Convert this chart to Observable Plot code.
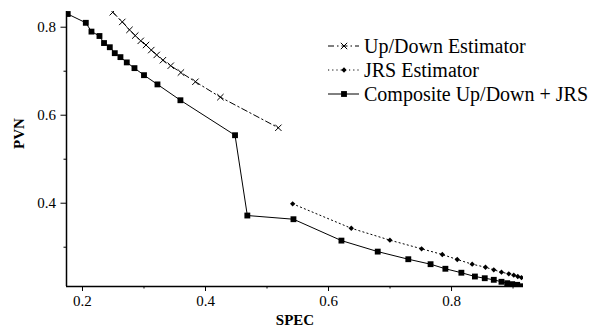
<!DOCTYPE html>
<html>
<head>
<meta charset="utf-8">
<script src="https://cdn.jsdelivr.net/npm/d3@7"></script>
<script src="https://cdn.jsdelivr.net/npm/@observablehq/plot@0.6"></script>
<style>
  html, body { margin: 0; padding: 0; background: #fff; }
  #wrap { position: relative; width: 590px; height: 328px; }
  #legend { position: absolute; left: 328px; top: 34px; font-family: "Liberation Serif", "Times New Roman", serif; font-size: 20px; color: #000; }
  #legend .row { display: flex; align-items: center; height: 24px; white-space: nowrap; }
  #legend svg { width: 32px; height: 12px; margin-right: 4px; overflow: visible; flex: none; }
</style>
</head>
<body>
<div id="wrap"><div id="legend"></div></div>
<script>
// ---- data ----
const seriesNames = ["Up/Down Estimator", "JRS Estimator", "Composite Up/Down + JRS"];

const upDownSpec = [0.2492, 0.2647, 0.2764, 0.2858, 0.2947, 0.3033, 0.3118, 0.3207, 0.3308, 0.3435, 0.360, 0.3836, 0.4242, 0.5184];
const upDownPvn  = [0.834, 0.812, 0.794, 0.781, 0.769, 0.7595, 0.748, 0.737, 0.725, 0.7125, 0.697, 0.676, 0.641, 0.5714];

const jrsSpec = [0.5417, 0.637, 0.6998, 0.7513, 0.785, 0.8093, 0.8336, 0.8552, 0.8687, 0.8812, 0.8931, 0.9012, 0.9077, 0.9137];
const jrsPvn  = [0.3986, 0.343, 0.316, 0.2964, 0.2834, 0.272, 0.2614, 0.2545, 0.2486, 0.2432, 0.2395, 0.2364, 0.2334, 0.231];

const compSpec = [0.176, 0.2054, 0.2146, 0.2276, 0.235, 0.2444, 0.2525, 0.2617, 0.272, 0.2845, 0.300, 0.3219, 0.3592, 0.448, 0.468, 0.543, 0.621, 0.680, 0.7297, 0.7659, 0.790, 0.816, 0.838, 0.854, 0.8687, 0.8812, 0.8905, 0.8986, 0.9067, 0.9137];
const compPvn  = [0.830, 0.810, 0.790, 0.780, 0.764, 0.7545, 0.741, 0.732, 0.720, 0.707, 0.691, 0.670, 0.634, 0.5545, 0.372, 0.3636, 0.315, 0.290, 0.2727, 0.2614, 0.251, 0.242, 0.2334, 0.2295, 0.2259, 0.2214, 0.2182, 0.216, 0.2145, 0.2113];

const xDomain = [0.174, 0.917];
const yDomain = [0.2107, 0.8357];
const xMajor = [0.2, 0.4, 0.6, 0.8];
const xMinor = [0.3, 0.5, 0.7, 0.9];
const yMajor = [0.4, 0.6, 0.8];
const yMinor = [0.3, 0.5, 0.7];
const xLabel = "SPEC";
const yLabel = "PVN";

const zip = (xs, ys) => xs.map((x, i) => ({x, y: ys[i]}));
const upDown = zip(upDownSpec, upDownPvn);
const jrs = zip(jrsSpec, jrsPvn);
const comp = zip(compSpec, compPvn);

const fmt = d3.format(".1f");

const chart = Plot.plot({
  width: 590,
  height: 328,
  marginLeft: 66,
  marginRight: 67,
  marginTop: 11,
  marginBottom: 42,
  style: {fontFamily: "'Liberation Serif', 'Times New Roman', serif", fontSize: "15px", color: "#000", background: "#fff"},
  x: {domain: xDomain},
  y: {domain: yDomain},
  marks: [
    Plot.axisX(xMajor, {tickSize: 5, tickPadding: 4, tickFormat: fmt, label: null, stroke: "#000", fill: "#000"}),
    Plot.axisX(xMinor, {tickSize: 2.5, tickFormat: () => "", label: null, stroke: "#000"}),
    Plot.axisY(yMajor, {tickSize: 5.5, tickPadding: 5, tickFormat: fmt, label: null, stroke: "#000", fill: "#000"}),
    Plot.axisY(yMinor, {tickSize: 2.5, tickFormat: () => "", label: null, stroke: "#000"}),
    Plot.ruleY([yDomain[0]], {stroke: "#000", strokeWidth: 1.5}),
    Plot.ruleX([xDomain[0]], {stroke: "#000", strokeWidth: 1.5}),
    // Up/Down
    Plot.line(upDown, {x: "x", y: "y", stroke: "#000", strokeWidth: 1, strokeDasharray: "6,3,1.5,3", clip: true}),
    Plot.dot(upDown, {x: "x", y: "y", symbol: "times", r: 3, stroke: "#000", strokeWidth: 1, clip: true}),
    // JRS
    Plot.line(jrs, {x: "x", y: "y", stroke: "#000", strokeWidth: 1, strokeDasharray: "1.2,3", clip: true}),
    Plot.dot(jrs, {x: "x", y: "y", symbol: "diamond2", r: 2.4, fill: "#000", stroke: "none", clip: true}),
    // Composite
    Plot.line(comp, {x: "x", y: "y", stroke: "#000", strokeWidth: 1, clip: true}),
    Plot.dot(comp, {x: "x", y: "y", symbol: "square", r: 3.3, fill: "#000", stroke: "none", clip: true}),
    // axis titles
    Plot.text([xLabel], {frameAnchor: "bottom", dy: 34, text: d => d, fontWeight: "bold", fontSize: 15, fill: "#000", lineAnchor: "middle"}),
    Plot.text([yLabel], {frameAnchor: "left", dx: -47, rotate: -90, text: d => d, fontWeight: "bold", fontSize: 15, fill: "#000", lineAnchor: "middle"})
  ]
});
document.getElementById("wrap").prepend(chart);

// ---- legend ----
const styles = [
  {dash: "6,3,1.5,3", symbol: d3.symbolTimes, size: 3, filled: false},
  {dash: "1.2,3", symbol: d3.symbolDiamond2, size: 2.4, filled: true},
  {dash: null, symbol: d3.symbolSquare, size: 3.3, filled: true}
];
const legend = d3.select("#legend");
seriesNames.forEach((name, i) => {
  const s = styles[i];
  const row = legend.append("div").attr("class", "row");
  const svg = row.append("svg").attr("viewBox", "0 0 32 12");
  svg.append("line").attr("x1", 0).attr("x2", 31).attr("y1", 6).attr("y2", 6)
    .attr("stroke", "#000").attr("stroke-width", 1)
    .attr("stroke-dasharray", s.dash);
  svg.append("path").attr("transform", "translate(16,6)")
    .attr("d", d3.symbol(s.symbol, s.size * s.size * Math.PI)())
    .attr("fill", s.filled ? "#000" : "none")
    .attr("stroke", s.filled ? "none" : "#000");
  row.append("span").text(name);
});
</script>
</body>
</html>
